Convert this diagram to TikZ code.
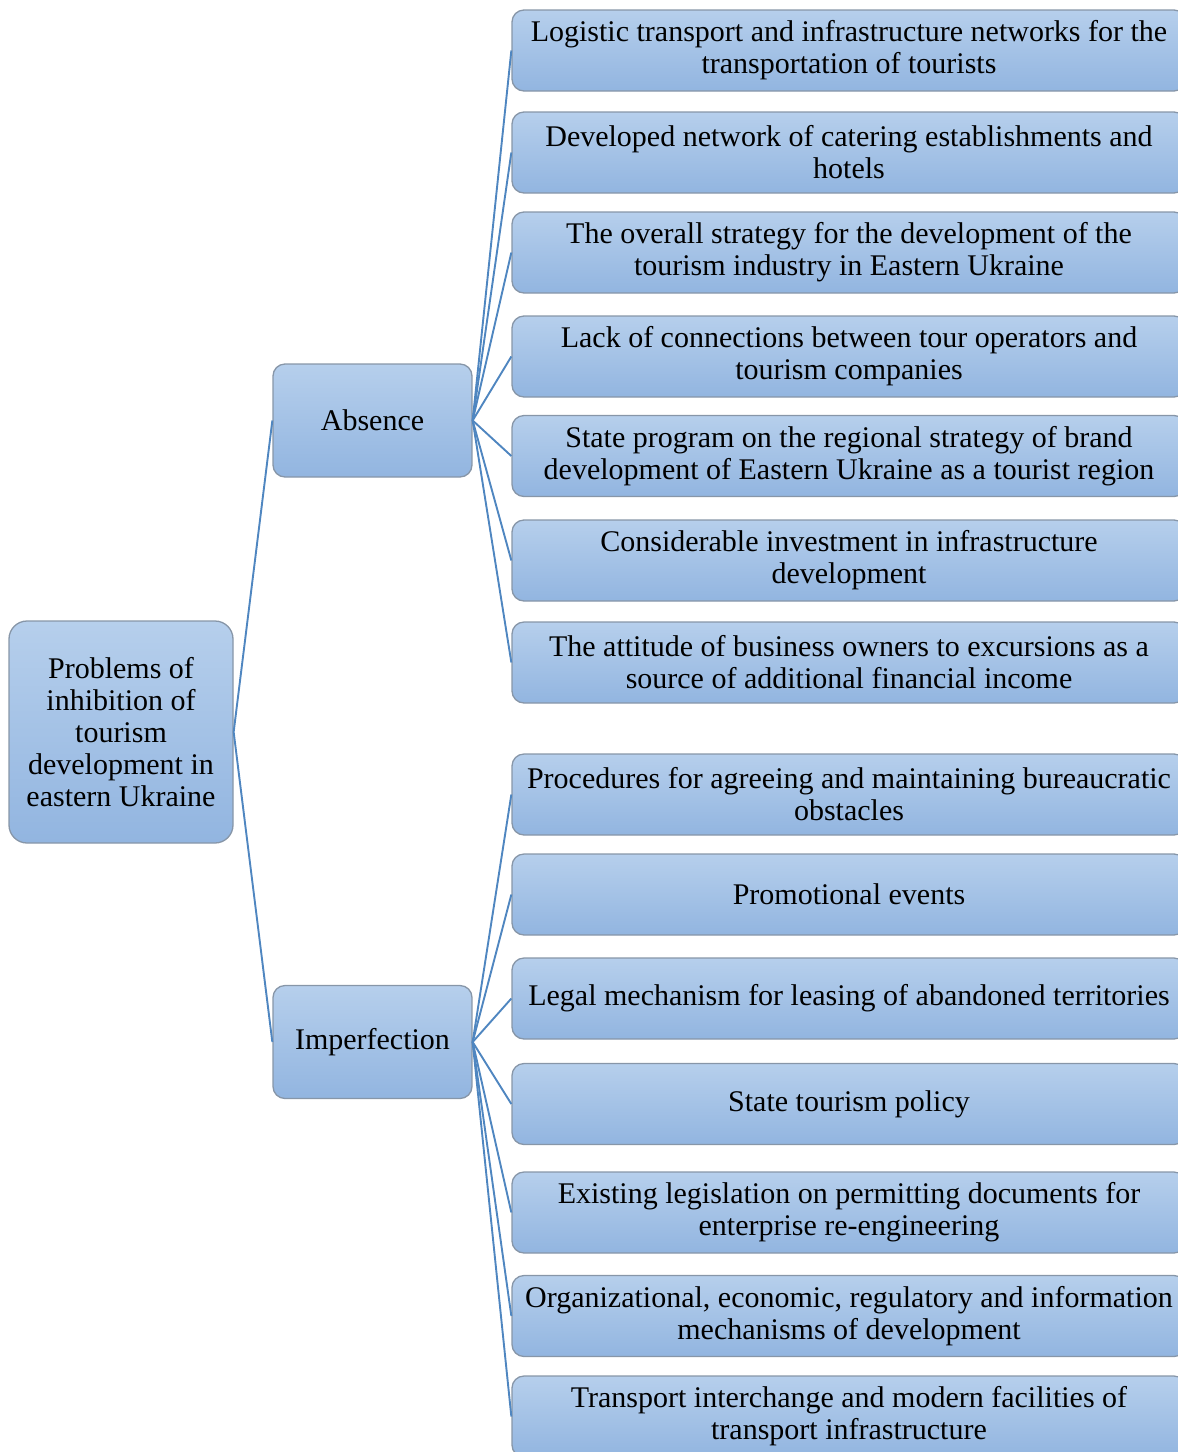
\documentclass[tikz,border=0pt]{standalone}
\usepackage{fontspec}
\setmainfont{Liberation Serif}
\definecolor{boxtop}{HTML}{B6CFEC}
\definecolor{boxbot}{HTML}{92B5E0}
\definecolor{boxline}{HTML}{8796A8}
\definecolor{connc}{HTML}{4F86C0}
\begin{document}
\begin{tikzpicture}[x=1pt,y=-1pt,
  box/.style={draw=boxline, line width=1.3pt, rounded corners=12pt,
    top color=boxtop, bottom color=boxbot, align=center, inner sep=0pt,
    font=\fontsize{30}{32}\selectfont},
  leaf/.style={box, minimum width=674pt, minimum height=81pt},
  mid/.style={box, minimum width=199pt, minimum height=113pt},
  link/.style={draw=connc, line width=1.9pt}]
\path[clip] (0,0) rectangle (1178,1452);
\node[box, minimum width=224pt, minimum height=222pt, rounded corners=18pt] (root) at (121,732)
  {Problems of\\inhibition of\\tourism\\development in\\eastern Ukraine};
\node[mid] (abs) at (372.5,420.5) {Absence};
\node[mid] (imp) at (372.5,1042) {Imperfection};
\node[leaf] (a1) at (849,50.5) {Logistic transport and infrastructure networks for the\\transportation of tourists};
\node[leaf] (a2) at (849,152.5) {Developed network of catering establishments and\\hotels};
\node[leaf] (a3) at (849,252.5) {The overall strategy for the development of the\\tourism industry in Eastern Ukraine};
\node[leaf] (a4) at (849,356.5) {Lack of connections between tour operators and\\tourism companies};
\node[leaf] (a5) at (849,456) {State program on the regional strategy of brand\\development of Eastern Ukraine as a tourist region};
\node[leaf] (a6) at (849,560.5) {Considerable investment in infrastructure\\development};
\node[leaf] (a7) at (849,662.5) {The attitude of business owners to excursions as a\\source of additional financial income};
\node[leaf] (b1) at (849,794.5) {Procedures for agreeing and maintaining bureaucratic\\obstacles};
\node[leaf] (b2) at (849,894.5) {Promotional events};
\node[leaf] (b3) at (849,998.5) {Legal mechanism for leasing of abandoned territories};
\node[leaf] (b4) at (849,1104) {State tourism policy};
\node[leaf] (b5) at (849,1212.5) {Existing legislation on permitting documents for\\enterprise re-engineering};
\node[leaf] (b6) at (849,1316) {Organizational, economic, regulatory and information\\mechanisms of development};
\node[leaf] (b7) at (849,1416.5) {Transport interchange and modern facilities of\\transport infrastructure};
\draw[link] (root.east) -- (abs.west);
\draw[link] (root.east) -- (imp.west);
\foreach \n in {a1,a2,a3,a4,a5,a6,a7} \draw[link] (abs.east) -- (\n.west);
\foreach \n in {b1,b2,b3,b4,b5,b6,b7} \draw[link] (imp.east) -- (\n.west);
\end{tikzpicture}
\end{document}
